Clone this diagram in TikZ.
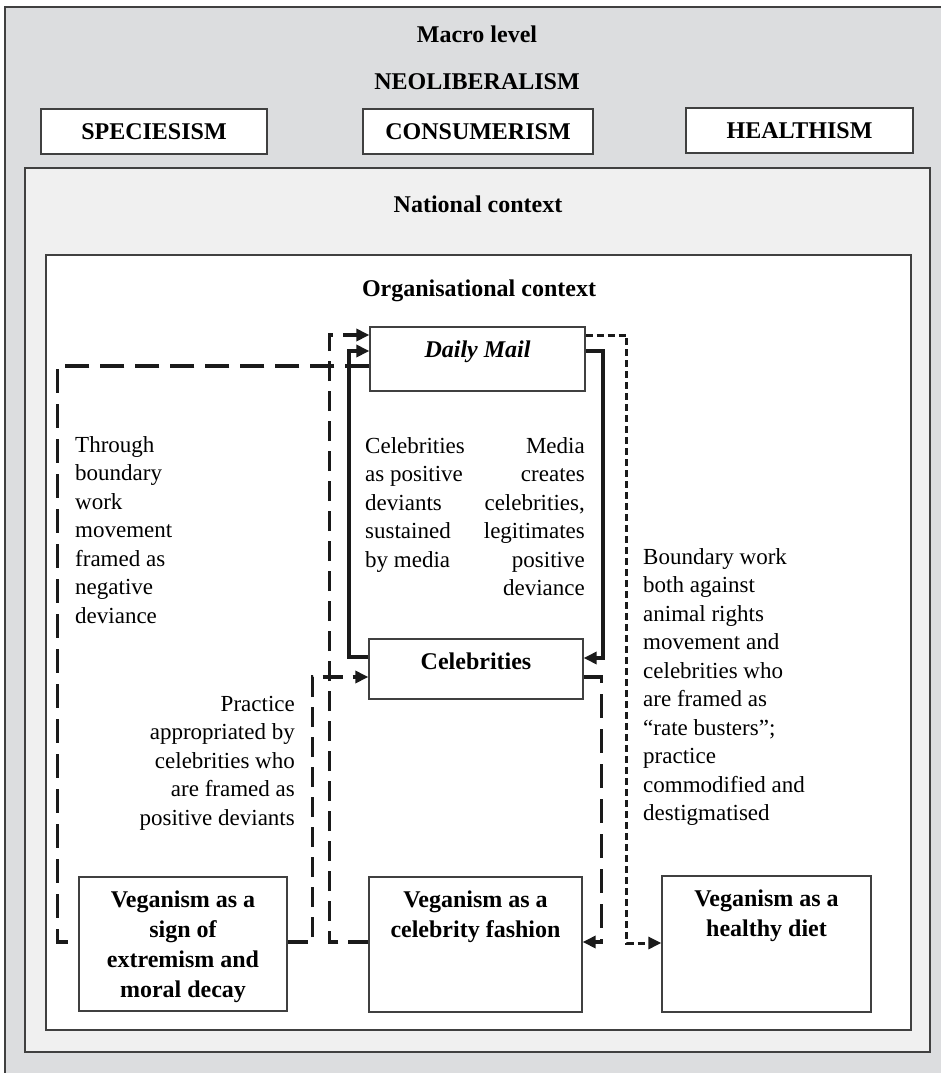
\documentclass[tikz,border=0pt]{standalone}
\usepackage{fontspec}
\setmainfont{Liberation Serif}
\usetikzlibrary{arrows.meta}
\definecolor{outergrey}{HTML}{DCDDDF}
\definecolor{natgrey}{HTML}{F0F0F0}
\definecolor{framecol}{HTML}{404040}
\definecolor{linecol}{HTML}{1A1A1A}
\tikzset{
  frame/.style={draw=framecol, line width=1.2pt},
  topbox/.style={draw=framecol, line width=1.5pt, fill=white, inner sep=0pt, minimum height=45pt,
    font=\bfseries\fontsize{24}{30}\selectfont},
  vbox/.style={draw=framecol, line width=1.3pt, fill=white, inner sep=0pt},
  hd/.style={font=\bfseries\fontsize{24}{30}\selectfont, inner sep=0pt, align=center, anchor=north},
  body/.style={font=\fontsize{23}{28.5}\selectfont, inner sep=0pt},
  solidc/.style={draw=linecol, line width=4pt},
  longd/.style={draw=linecol, line width=3.5pt, dash pattern=on 24pt off 11pt},
  medd/.style={draw=linecol, line width=3.5pt, dash pattern=on 20pt off 10pt},
  shortd/.style={draw=linecol, line width=3pt, dash pattern=on 7pt off 4pt},
  tip/.style={-{Triangle[length=13pt,width=12pt]}},
}
\begin{document}
\begin{tikzpicture}[x=1pt,y=-1pt]
\useasboundingbox (0,0) rectangle (941,1073);
\clip (0,0) rectangle (941,1073);
\fill[white] (0,0) rectangle (941,1073);
% frames
\filldraw[frame, fill=outergrey] (5,7) rectangle (960,1090);
\filldraw[frame, fill=natgrey] (25,168) rectangle (930,1052);
\filldraw[frame, fill=white] (46,255) rectangle (911,1030);
% headings
\node[hd] (macro) at (477,26) {Macro level};
\node[hd] (neo) at (477,73) {NEOLIBERALISM};
\node[topbox, minimum width=226pt] (spec) at (154,131.5) {SPECIESISM};
\node[topbox, minimum width=230pt] (cons) at (478,131.5) {CONSUMERISM};
\node[topbox, minimum width=227pt] (heal) at (799.5,130.5) {HEALTHISM};
\node[hd] (nat) at (478,196) {National context};
\node[hd] (org) at (479,280) {Organisational context};
% boxes
\node[vbox, minimum width=215pt, minimum height=64pt] (dm) at (477.5,359) {};
\node[vbox, minimum width=214pt, minimum height=60pt] (cel) at (476,669) {};
\node[vbox, minimum width=208pt, minimum height=134pt] (ext) at (183,944) {};
\node[vbox, minimum width=213pt, minimum height=135pt] (fash) at (475.5,944.5) {};
\node[vbox, minimum width=209pt, minimum height=136pt] (health) at (766.5,944) {};
% box texts
\node[hd, font=\bfseries\itshape\fontsize{24}{30}\selectfont] (dmt) at (477.5,341) {Daily Mail};
\node[hd] (celt) at (476,653) {Celebrities};
\node[hd] (extt) at (183,890.5) {Veganism as a\\sign of\\extremism and\\moral decay};
\node[hd] (fasht) at (475.5,890.5) {Veganism as a\\celebrity fashion};
\node[hd] (healtht) at (766.5,889.5) {Veganism as a\\healthy diet};
% body texts
\node[body, align=left, anchor=north west] (t1) at (75,436)
  {Through\\boundary\\work\\movement\\framed as\\negative\\deviance};
\node[body, align=left, anchor=north west] (t2) at (365,437)
  {Celebrities\\as positive\\deviants\\sustained\\by media};
\node[body, align=right, anchor=north east] (t3) at (585,437)
  {Media\\creates\\celebrities,\\legitimates\\positive\\deviance};
\node[body, align=right, anchor=north east] (t4) at (295,696)
  {Practice\\appropriated by\\celebrities who\\are framed as\\positive deviants};
\node[body, align=left, anchor=north west] (t5) at (643,548)
  {Boundary work\\both against\\animal rights\\movement and\\celebrities who\\are framed as\\``rate busters'';\\practice\\commodified and\\destigmatised};
% connectors
\draw[longd] ([yshift=-7pt]dm.west) -| ([xshift=-21pt,yshift=2pt]ext.west) -- ([yshift=2pt]ext.west);
\draw[medd,tip] ([yshift=2pt]ext.east) -- ++(25pt,0) |- ([yshift=-8pt]cel.west);
\draw[solidc,tip] ([yshift=12pt]cel.west) -- ++(-19pt,0) |- ([yshift=8pt]dm.west);
\draw[medd,tip] ([yshift=2.5pt]fash.west) -- ++(-39pt,0) |- ([yshift=24pt]dm.west);
\draw[solidc,tip] ([yshift=8pt]dm.east) -- ++(17pt,0) |- ([yshift=11pt]cel.east);
\draw[longd,tip] ([yshift=-8pt]cel.east) -- ++(18pt,0) |- ([yshift=2.5pt]fash.east);
\draw[shortd,tip] ([yshift=24pt]dm.east) -- ++(41pt,0) |- ([yshift=1pt]health.west);
\end{tikzpicture}
\end{document}
